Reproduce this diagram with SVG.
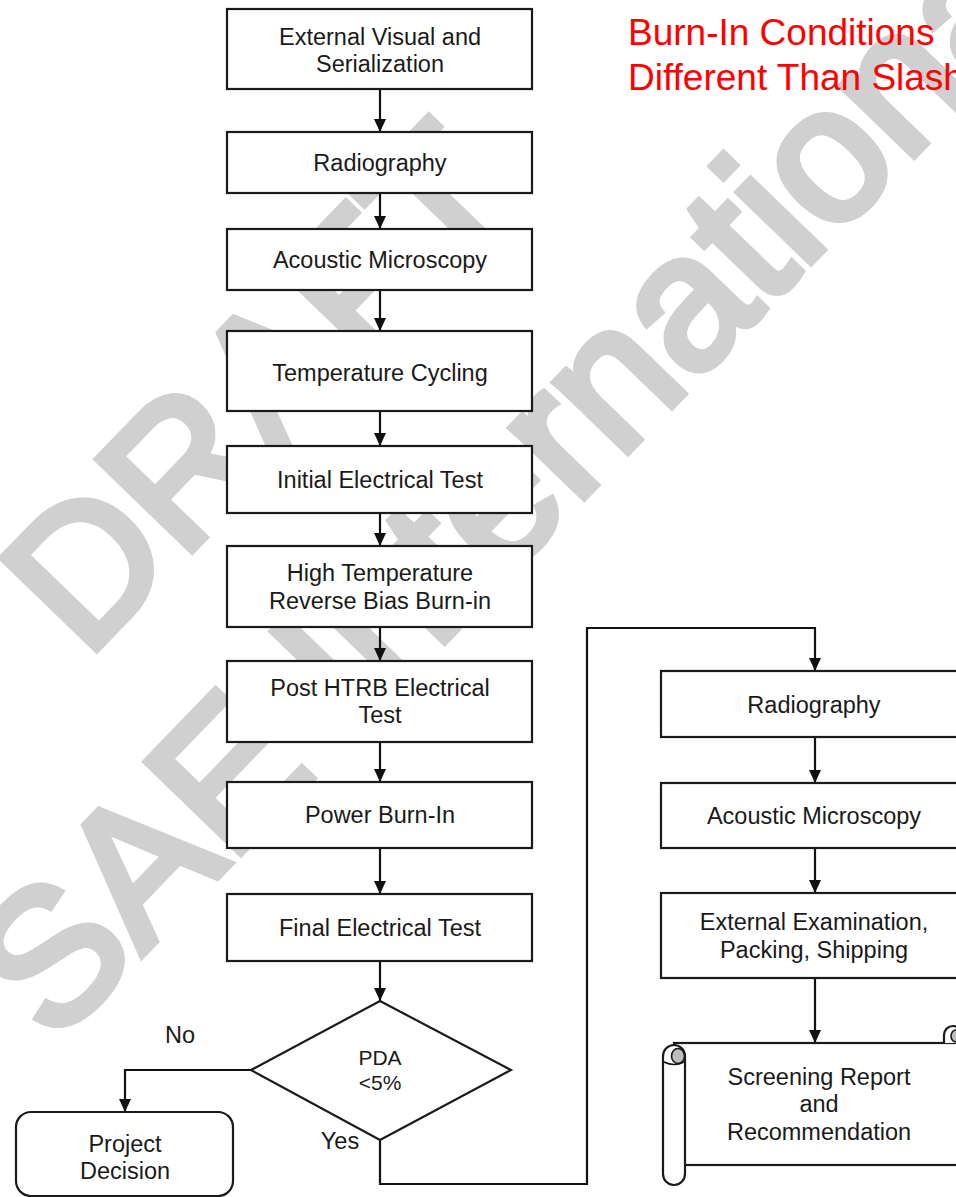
<svg xmlns="http://www.w3.org/2000/svg" width="956" height="1197" viewBox="0 0 956 1197">
  <defs>
    <marker id="arrow" viewBox="0 0 13 12" refX="13" refY="6" markerWidth="13" markerHeight="12" markerUnits="userSpaceOnUse" orient="auto">
      <path d="M0,0 L13,6 L0,12 z" fill="#111"/>
    </marker>
    <style>
      .box{fill:#fff;stroke:#1a1a1a;stroke-width:2.2}
      .lbl{font-family:"Liberation Sans",Arial,sans-serif;font-size:23.5px;fill:#1a1a1a;text-anchor:middle}
      .small{font-size:21px}
      .conn{fill:none;stroke:#111;stroke-width:2.2}
      .note{font-family:"Liberation Sans",Arial,sans-serif;font-size:37px;fill:#ff0000}
      .wm{font-family:"Liberation Sans",Arial,sans-serif;font-size:190px;fill:#d0d0d0;stroke:#d0d0d0;stroke-width:8}
      .curl{fill:#bdbdbd;stroke:#1a1a1a;stroke-width:1.6}
    </style>
  </defs>

  <rect width="956" height="1197" fill="#fff"/>

  <!-- background stamp -->
  <g id="watermark">
    <text class="wm" transform="translate(86,660) rotate(-46)">DRAFT</text>
    <text class="wm" transform="translate(54,1046) rotate(-46)">SAE International</text>
  </g>

  <!-- red remark -->
  <g id="remark">
    <text class="note" x="628" y="45">Burn-In Conditions</text>
    <text class="note" x="628" y="90">Different Than Slash</text>
  </g>

  <!-- connectors -->
  <g id="connectors">
    <path class="conn" d="M380,89 V132" marker-end="url(#arrow)"/>
    <path class="conn" d="M380,193 V229" marker-end="url(#arrow)"/>
    <path class="conn" d="M380,290 V331" marker-end="url(#arrow)"/>
    <path class="conn" d="M380,411 V446" marker-end="url(#arrow)"/>
    <path class="conn" d="M380,513 V546" marker-end="url(#arrow)"/>
    <path class="conn" d="M380,627 V661" marker-end="url(#arrow)"/>
    <path class="conn" d="M380,742 V782" marker-end="url(#arrow)"/>
    <path class="conn" d="M380,848 V894" marker-end="url(#arrow)"/>
    <path class="conn" d="M380,961 V1001" marker-end="url(#arrow)"/>
    <path class="conn" d="M251,1070 H125 V1112" marker-end="url(#arrow)"/>
    <path class="conn" d="M380,1140 V1184 H587 V628 H815 V671" marker-end="url(#arrow)"/>
    <path class="conn" d="M815,737 V783" marker-end="url(#arrow)"/>
    <path class="conn" d="M815,848 V893" marker-end="url(#arrow)"/>
    <path class="conn" d="M815,978 V1043" marker-end="url(#arrow)"/>
  </g>

  <!-- main column -->
  <g id="external-visual">
    <rect class="box" x="227" y="9" width="305" height="80"/>
    <text class="lbl" x="380" y="45">External Visual and</text>
    <text class="lbl" x="380" y="72">Serialization</text>
  </g>
  <g id="radiography-1">
    <rect class="box" x="227" y="132" width="305" height="61"/>
    <text class="lbl" x="380" y="171">Radiography</text>
  </g>
  <g id="acoustic-1">
    <rect class="box" x="227" y="229" width="305" height="61"/>
    <text class="lbl" x="380" y="268">Acoustic Microscopy</text>
  </g>
  <g id="temp-cycling">
    <rect class="box" x="227" y="331" width="305" height="80"/>
    <text class="lbl" x="380" y="381">Temperature Cycling</text>
  </g>
  <g id="initial-test">
    <rect class="box" x="227" y="446" width="305" height="67"/>
    <text class="lbl" x="380" y="488">Initial Electrical Test</text>
  </g>
  <g id="htrb">
    <rect class="box" x="227" y="546" width="305" height="81"/>
    <text class="lbl" x="380" y="581">High Temperature</text>
    <text class="lbl" x="380" y="609">Reverse Bias Burn-in</text>
  </g>
  <g id="post-htrb">
    <rect class="box" x="227" y="661" width="305" height="81"/>
    <text class="lbl" x="380" y="696">Post HTRB Electrical</text>
    <text class="lbl" x="380" y="723">Test</text>
  </g>
  <g id="power-burn-in">
    <rect class="box" x="227" y="782" width="305" height="66"/>
    <text class="lbl" x="380" y="823">Power Burn-In</text>
  </g>
  <g id="final-test">
    <rect class="box" x="227" y="894" width="305" height="67"/>
    <text class="lbl" x="380" y="936">Final Electrical Test</text>
  </g>
  <g id="pda-decision">
    <polygon class="box" points="380,1001 511,1070 380,1140 251,1070"/>
    <text class="lbl small" x="380" y="1065">PDA</text>
    <text class="lbl small" x="380" y="1090">&lt;5%</text>
  </g>
  <g id="branch-labels">
    <text class="lbl" x="180" y="1043">No</text>
    <text class="lbl" x="340" y="1149">Yes</text>
  </g>
  <g id="project-decision">
    <rect class="box" x="16" y="1112" width="217" height="84" rx="15"/>
    <text class="lbl" x="125" y="1152">Project</text>
    <text class="lbl" x="125" y="1179">Decision</text>
  </g>

  <!-- right column -->
  <g id="radiography-2">
    <rect class="box" x="661" y="671" width="306" height="66"/>
    <text class="lbl" x="814" y="713">Radiography</text>
  </g>
  <g id="acoustic-2">
    <rect class="box" x="661" y="783" width="306" height="65"/>
    <text class="lbl" x="814" y="824">Acoustic Microscopy</text>
  </g>
  <g id="external-exam">
    <rect class="box" x="661" y="893" width="306" height="85"/>
    <text class="lbl" x="814" y="930">External Examination,</text>
    <text class="lbl" x="814" y="958">Packing, Shipping</text>
  </g>
  <g id="screening-report">
    <rect class="box" x="674" y="1043" width="300" height="122"/>
    <path class="box" d="M944,1043 V1035 A9,9 0 0 1 962,1035 V1043"/>
    <ellipse class="curl" cx="956" cy="1036" rx="5" ry="6"/>
    <rect class="box" x="663" y="1045" width="22" height="140" rx="11"/>
    <ellipse class="curl" cx="678" cy="1056" rx="6.5" ry="7.5"/>
    <path class="conn" style="stroke-width:1.6" d="M664,1062 Q674,1067 684,1062"/>
    <text class="lbl" x="819" y="1085">Screening Report</text>
    <text class="lbl" x="819" y="1112">and</text>
    <text class="lbl" x="819" y="1140">Recommendation</text>
  </g>
</svg>
